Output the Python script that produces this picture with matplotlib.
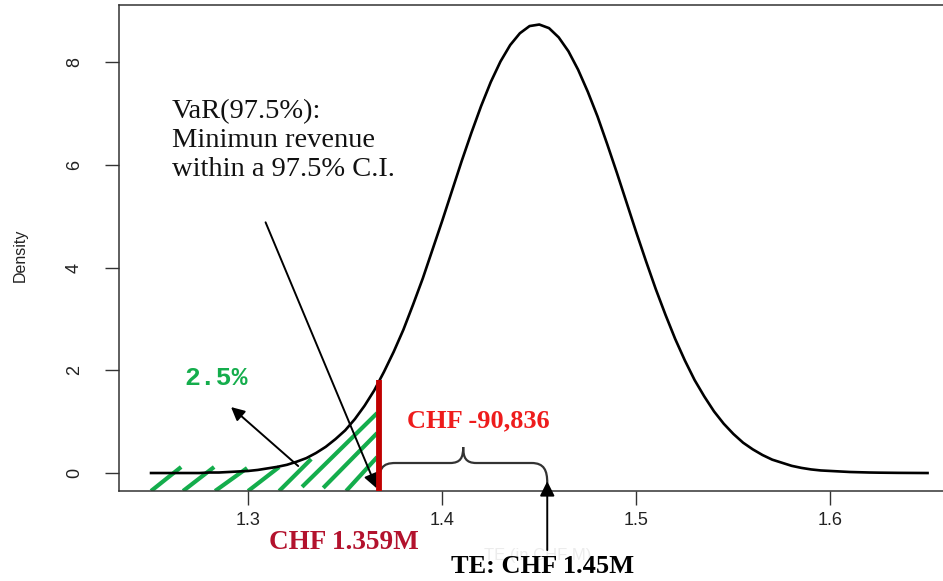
import matplotlib.pyplot as plt
from matplotlib.path import Path
from matplotlib.patches import PathPatch

# density curve (TE in CHF M), every 0.005
te = [1.250, 1.255, 1.260, 1.265, 1.270, 1.275, 1.280, 1.285, 1.290, 1.295,
      1.300, 1.305, 1.310, 1.315, 1.320, 1.325, 1.330, 1.335, 1.340, 1.345,
      1.350, 1.355, 1.360, 1.365, 1.370, 1.375, 1.380, 1.385, 1.390, 1.395,
      1.400, 1.405, 1.410, 1.415, 1.420, 1.425, 1.430, 1.435, 1.440, 1.445,
      1.450, 1.455, 1.460, 1.465, 1.470, 1.475, 1.480, 1.485, 1.490, 1.495,
      1.500, 1.505, 1.510, 1.515, 1.520, 1.525, 1.530, 1.535, 1.540, 1.545,
      1.550, 1.555, 1.560, 1.565, 1.570, 1.575, 1.580, 1.585, 1.590, 1.595,
      1.600, 1.605, 1.610, 1.615, 1.620, 1.625, 1.630, 1.635, 1.640, 1.645,
      1.650]
density = [0.00, 0.00, 0.00, 0.00, 0.00, 0.00, 0.01, 0.01, 0.02, 0.03,
           0.04, 0.06, 0.09, 0.12, 0.16, 0.22, 0.29, 0.39, 0.51, 0.66,
           0.83, 1.05, 1.31, 1.61, 1.97, 2.36, 2.79, 3.28, 3.79, 4.35,
           4.91, 5.49, 6.07, 6.62, 7.14, 7.61, 8.01, 8.33, 8.56, 8.70,
           8.73, 8.66, 8.48, 8.21, 7.85, 7.42, 6.94, 6.40, 5.84, 5.26,
           4.68, 4.12, 3.58, 3.08, 2.61, 2.19, 1.81, 1.49, 1.20, 0.96,
           0.76, 0.59, 0.46, 0.35, 0.26, 0.20, 0.14, 0.10, 0.07, 0.05,
           0.04, 0.03, 0.02, 0.015, 0.01, 0.007, 0.005, 0.003, 0.002, 0.001,
           0.00]

var_x = 1.3675      # where the red VaR bar sits
var_top = 1.81
te_mark = 1.4541

x_ticks = [1.3, 1.4, 1.5, 1.6]
y_ticks = [0, 2, 4, 6, 8]

# hand drawn green hatch strokes (start, end)
hatch = [((1.2500, -0.35), (1.2655, 0.117)),
         ((1.2665, -0.35), (1.2825, 0.117)),
         ((1.2830, -0.35), (1.2995, 0.097)),
         ((1.3000, -0.35), (1.3160, 0.117)),
         ((1.3160, -0.35), (1.3325, 0.272)),
         ((1.3278, -0.27), (1.3665, 1.167)),
         ((1.3387, -0.29), (1.3665, 0.778)),
         ((1.3505, -0.35), (1.3665, 0.311))]

GREEN = '#14ad4c'

fig = plt.figure(figsize=(9.43, 5.81), dpi=100)
ax = fig.add_axes([0.1262, 0.1549, 0.885, 0.8365])

ax.plot(te, density, color='black', lw=1.9, zorder=3)

for (x0, y0), (x1, y1) in hatch:
    ax.plot([x0, x1], [y0, y1], color=GREEN, lw=3.0, solid_capstyle='butt', zorder=2)

ax.plot([var_x, var_x], [-0.35, var_top], color='#c00000', lw=4.2,
        solid_capstyle='butt', zorder=4)

ax.set_xlim(1.2335, 1.6634)
ax.set_ylim(-0.35, 9.11)
ax.set_xticks(x_ticks)
ax.set_xticklabels([str(v) for v in x_ticks])
ax.set_yticks(y_ticks)
ax.set_yticklabels([str(v) for v in y_ticks], rotation=90, va='center')
ax.tick_params(axis='both', length=10, width=1, color='#333333',
               labelsize=13, labelcolor='#222222')
ax.tick_params(axis='x', pad=5)
ax.tick_params(axis='y', pad=16)
for s in ax.spines.values():
    s.set_color('#333333')
    s.set_linewidth(1.1)
for lbl in ax.get_xticklabels() + ax.get_yticklabels():
    lbl.set_family('Liberation Sans')

fig.text(0.021, 0.56, 'Density', rotation=90, ha='center', va='center',
         fontsize=11.5, family='Liberation Sans', color='#222222')

# faded original x label
ax.text(1.449, -1.6, 'TE (in CHF M)', ha='center', va='center', fontsize=12,
        family='Liberation Sans', color='#ececec', clip_on=False)

# annotations
ax.text(1.2608, 7.27, 'VaR(97.5%):\nMinimun revenue\nwithin a 97.5% C.I.',
        ha='left', va='top', fontsize=20.5, family='Liberation Serif',
        linespacing=1.2, color='#111111')
ax.annotate('', xy=(1.3663, -0.30), xytext=(1.309, 4.88),
            arrowprops=dict(arrowstyle='-|>', color='black', lw=1.4,
                            mutation_scale=22, shrinkA=0, shrinkB=0),
            annotation_clip=False)

ax.text(1.2835, 1.85, '2.5%', ha='center', va='center', fontsize=19,
        family='Liberation Mono', weight='bold', color=GREEN)
ax.annotate('', xy=(1.2912, 1.284), xytext=(1.3258, 0.136),
            arrowprops=dict(arrowstyle='-|>', color='black', lw=1.4,
                            mutation_scale=20, shrinkA=0, shrinkB=0))

ax.text(1.4186, 1.01, 'CHF -90,836', ha='center', va='center', fontsize=19,
        family='Liberation Serif', weight='bold', color='#ee1c1c')

brace = Path([(1.3670, -0.33), (1.3670, 0.10), (1.3690, 0.195), (1.3760, 0.195),
              (1.4040, 0.195),
              (1.4095, 0.195), (1.4108, 0.30), (1.4108, 0.506),
              (1.4108, 0.30), (1.4121, 0.195), (1.4176, 0.195),
              (1.4460, 0.195),
              (1.4525, 0.195), (1.4541, 0.05), (1.4541, -0.195)],
             [Path.MOVETO, Path.CURVE4, Path.CURVE4, Path.CURVE4,
              Path.LINETO,
              Path.CURVE4, Path.CURVE4, Path.CURVE4,
              Path.CURVE4, Path.CURVE4, Path.CURVE4,
              Path.LINETO,
              Path.CURVE4, Path.CURVE4, Path.CURVE4])
ax.add_patch(PathPatch(brace, facecolor='none', edgecolor='#333333', lw=1.6, zorder=3))

ax.annotate('', xy=(te_mark, -0.16), xytext=(te_mark, -1.5),
            arrowprops=dict(arrowstyle='-|>', color='black', lw=1.4,
                            mutation_scale=22, shrinkA=0, shrinkB=0),
            annotation_clip=False)

ax.text(1.3495, -1.36, 'CHF 1.359M', ha='center', va='center', fontsize=19.5,
        family='Liberation Serif', weight='bold', color='#b3122d')
ax.text(1.4515, -1.81, 'TE: CHF 1.45M', ha='center', va='center', fontsize=19,
        family='Liberation Serif', weight='bold', color='black')

fig.savefig('out.png', dpi=100)
